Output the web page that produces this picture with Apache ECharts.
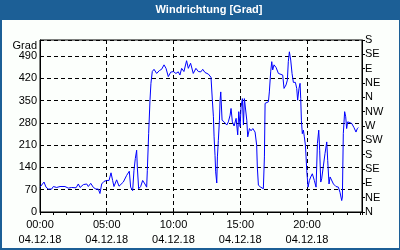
<!DOCTYPE html>
<html><head><meta charset="utf-8">
<script src="https://cdn.jsdelivr.net/npm/echarts@6/dist/echarts.min.js"></script>
<style>html,body{margin:0;padding:0;}#c{width:400px;height:250px;}</style>
</head><body><div id="c"></div>
<script>
// time of each reading in hours since 04.12.18 00:00
const hours = [
 0,0.30,0.45,0.62,0.87,1.00,1.25,1.50,1.62,1.87,2.12,2.37,2.50,2.70,2.87,3.00,3.25,3.50,3.62,3.80,4.00,4.19,4.37,4.49,4.62,4.79,4.99,5.17,5.32,5.44,5.54,5.74,5.92,
 5.99,6.24,6.49,6.69,6.79,6.94,7.04,7.14,7.24,7.29,7.39,7.54,7.69,7.86,7.99,8.04,8.14,8.24,8.31,8.41,8.54,8.74,8.94,9.11,9.29,9.44,9.61,9.79,9.99,10.18,10.36,10.48,10.61,10.78,10.98,11.11,11.28,11.48,11.68,11.86,
 12.05,12.19,12.36,12.61,12.81,12.91,12.99,13.04,13.11,13.16,13.24,13.29,13.36,13.44,13.49,13.54,13.64,13.79,13.99,14.11,14.24,14.31,14.41,14.54,14.69,14.81,14.89,14.99,15.06,15.16,15.24,15.31,15.41,15.49,15.56,15.69,15.81,15.94,16.11,16.23,16.28,16.36,16.53,16.73,16.81,16.86,16.98,17.11,17.18,17.28,17.36,17.43,17.53,17.68,17.86,
 17.98,18.18,18.28,18.43,18.53,18.60,18.68,18.78,18.88,18.98,19.13,19.23,19.30,19.40,19.48,19.53,19.58,19.65,19.73,19.80,19.88,19.93,19.98,20.08,20.18,20.28,20.40,20.55,20.68,20.78,20.88,20.95,21.03,21.10,21.23,21.35,21.48,21.55,21.65,21.73,21.85,21.98,22.17,22.35,22.47,22.60,22.65,22.72,22.82,22.90,22.97,23.05,23.17,23.35,23.52,23.67,23.77,23.85
];
// wind direction in degrees
const degrees = [
 78,94,78,72,72,80,77,80,77,80,75,77,80,76,88,77,86,88,80,90,77,72,72,58,88,96,99,99,123,99,80,101,81,
 82,94,115,128,78,67,131,168,194,141,73,80,99,88,78,131,247,352,404,441,448,435,444,448,462,451,425,439,441,435,440,430,451,441,475,451,467,435,451,441,
 440,448,438,433,423,351,299,236,178,126,91,173,225,288,351,377,288,283,273,283,304,325,283,270,294,242,315,268,330,356,273,356,356,288,236,262,255,262,251,210,141,84,78,73,173,341,341,346,377,440,472,446,462,454,435,
 430,430,388,399,414,472,503,477,435,407,407,388,351,388,404,356,288,246,257,236,210,173,131,78,99,110,120,99,78,215,257,194,94,104,99,184,220,162,88,110,115,88,80,78,62,36,47,246,315,299,262,283,283,278,265,251,262,265
];
const dateLabel = '04.12.18';
const compassLabels = ['N','NE','E','SE','S','SW','W','NW','N','NE','E','SE','S'];
const titleText = 'Windrichtung [Grad]';
const unitName = 'Grad';

const FONT = 'Liberation Sans';
const chart = echarts.init(document.getElementById('c'), null, {renderer:'canvas'});
const data = hours.map((h,i)=>[h, degrees[i]]);
chart.setOption({
  animation:false,
  backgroundColor:'#1c5f96',
  graphic:[
    {type:'rect', z:-10, silent:true, shape:{x:2,y:20,width:397,height:228}, style:{fill:'#fcfffc'}},
    {type:'text', x:37, y:46, style:{text:unitName, fill:'#000', font:'11px "'+FONT+'"', align:'right', verticalAlign:'middle'}}
  ],
  title:{text:titleText, left:209, top:10, textAlign:'center', textVerticalAlign:'middle', padding:0,
    textStyle:{color:'#fff', fontFamily:FONT, fontWeight:'bold', fontSize:11}},
  grid:{left:40, right:38, top:40, bottom:38, show:true, borderColor:'#000', borderWidth:1, backgroundColor:'transparent'},
  xAxis:{type:'value', min:0, max:24.12, interval:5,
    axisLine:{show:true, lineStyle:{color:'#000', width:1}},
    axisTick:{show:true, inside:false, length:3, lineStyle:{color:'#000'}},
    minorTick:{show:true, splitNumber:5, length:3, lineStyle:{color:'#000'}},
    splitLine:{show:true, lineStyle:{color:'#000', type:[4,3], width:1}},
    axisLabel:{showMaxLabel:false, margin:5, color:'#000', fontFamily:FONT, fontSize:11, lineHeight:15,
      formatter:v=>String(Math.round(v)).padStart(2,'0')+':00\n'+dateLabel}
  },
  yAxis:[
    {type:'value', min:0, max:540, interval:70, position:'left',
      axisLine:{show:true, lineStyle:{color:'#000'}},
      axisTick:{show:false},
      splitLine:{show:true, lineStyle:{color:'#000', type:[4,3], width:1}},
      axisLabel:{showMaxLabel:false, margin:3, color:'#000', fontFamily:FONT, fontSize:11}
    },
    {type:'value', min:0, max:540, interval:45, position:'right',
      axisLine:{show:true, lineStyle:{color:'#000'}},
      axisTick:{show:true, inside:false, length:3, lineStyle:{color:'#000'}},
      splitLine:{show:false},
      axisLabel:{margin:3, color:'#000', fontFamily:FONT, fontSize:11,
        formatter:(v)=>compassLabels[Math.round(v/45)]}
    }
  ],
  series:[{type:'line', data:data, showSymbol:false, symbol:'none', yAxisIndex:0,
    lineStyle:{color:'#0000ff', width:1}, itemStyle:{color:'#0000ff'}}]
});
</script></body></html>
